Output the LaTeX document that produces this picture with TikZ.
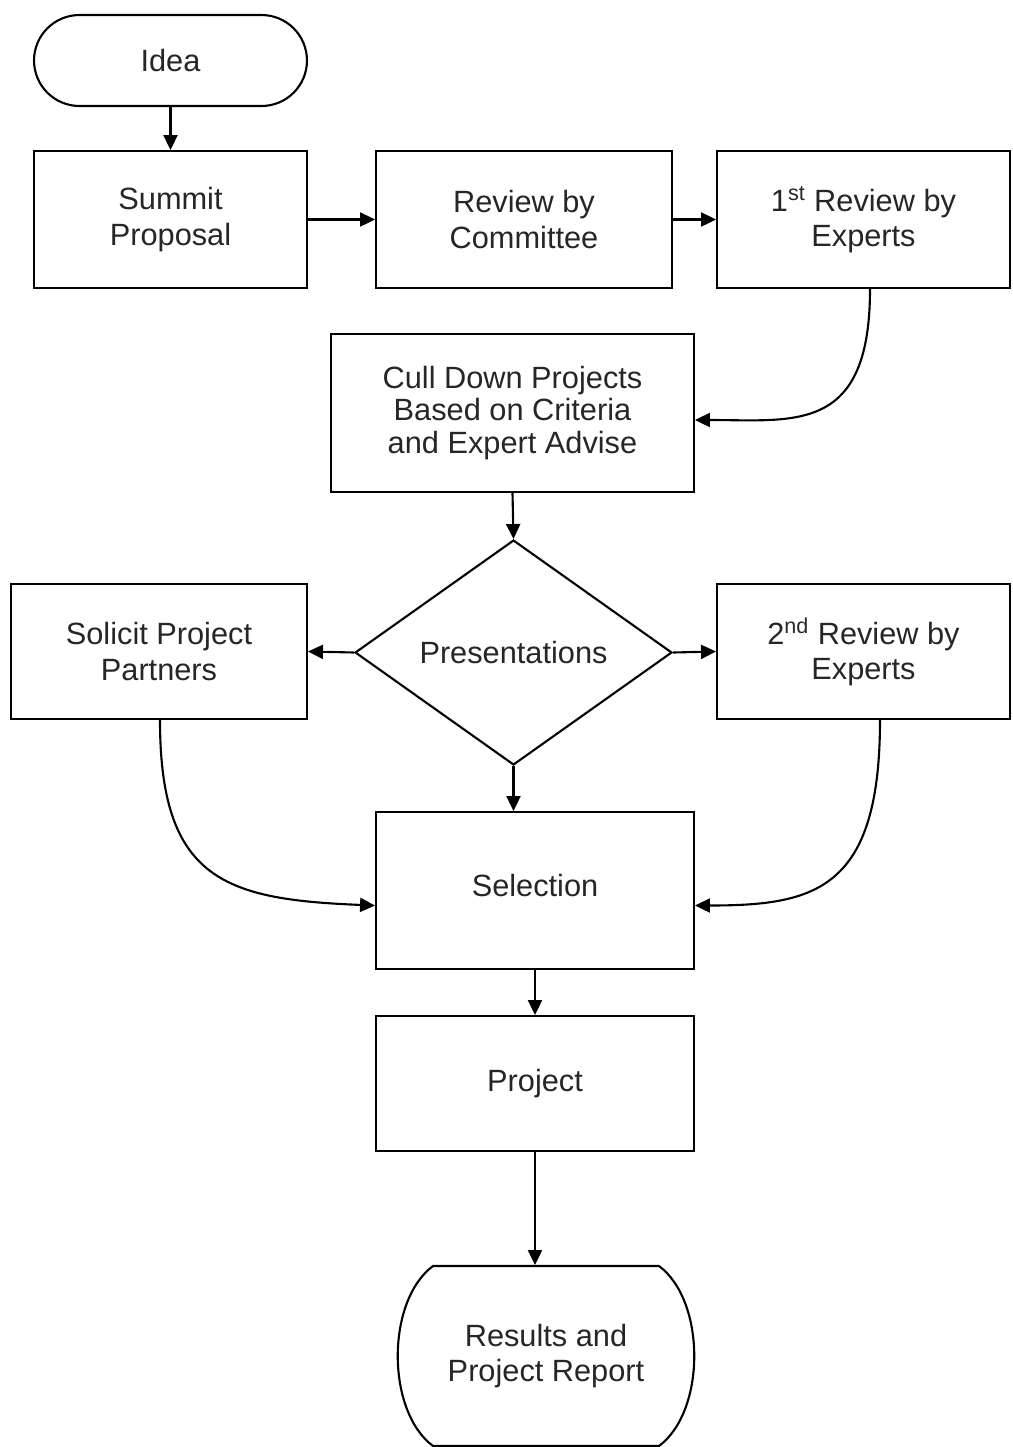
\documentclass[tikz,border=0pt]{standalone}
\usepackage{fontspec}
\setmainfont{Liberation Sans}
\usetikzlibrary{arrows.meta,shapes.geometric,calc}
\newcommand\boxfont{\fontsize{17.5}{20}\selectfont}
\begin{document}
\begin{tikzpicture}[x=0.02cm,y=-0.02cm,
  box/.style={draw, line width=1.2pt, rectangle, align=center, font=\boxfont, inner sep=0pt, text=black!85},
  term/.style={box, rounded corners=0.91cm},
  arr/.style={line width=1.2pt, -{Triangle[length=8.5pt,width=8pt]}}]
\useasboundingbox (0,0) rectangle (1012,1447);
% nodes
\node[term, minimum width=5.46cm, minimum height=1.82cm] (idea) at (170.5,60.5) {Idea};
\node[box, minimum width=5.46cm, minimum height=2.74cm] (summit) at (170.5,219.5) {Summit\\Proposal};
\node[box, minimum width=5.92cm, minimum height=2.74cm] (committee) at (524,219.5) {Review by\\Committee};
\node[box, minimum width=5.86cm, minimum height=2.74cm] (first) at (863.5,219.5) {1\textsuperscript{st} Review by\\Experts};
\node[box, minimum width=7.26cm, minimum height=3.16cm, font=\fontsize{17.5}{18.7}\selectfont] (cull) at (512.5,413) {Cull Down Projects\\Based on Criteria\\and Expert Advise};
\node[box, diamond, aspect=1.409, minimum width=6.34cm, minimum height=4.5cm] (pres) at (513.5,652.5) {Presentations};
\node[box, minimum width=5.92cm, minimum height=2.7cm] (solicit) at (159,651.5) {Solicit Project\\Partners};
\node[box, minimum width=5.86cm, minimum height=2.7cm] (second) at (863.5,651.5) {2\textsuperscript{nd} Review by\\Experts};
\node[box, minimum width=6.36cm, minimum height=3.14cm] (selection) at (535,890.5) {\raisebox{0.2cm}{Selection}};
\node[box, minimum width=6.36cm, minimum height=2.7cm] (project) at (535,1083.5) {Project};
\node[box, draw=none, minimum width=5.92cm, minimum height=3.6cm] (results) at (546,1356) {Results and\\Project Report};
\draw[line width=1.2pt, shift={(results.center)}]
  (-113,-90) -- (113,-90) .. controls (160,-55) and (160,55) .. (113,90)
  -- (-113,90) .. controls (-160,55) and (-160,-55) .. (-113,-90) -- cycle;
% connectors
\draw[arr] (idea.south) -- (summit.north);
\draw[arr] (summit.east) -- (committee.west);
\draw[arr] (committee.east) -- (first.west);
\draw[arr] ([xshift=0.13cm]first.south) .. controls +(0,145) and +(100,0) .. ([yshift=-0.14cm]cull.east);
\draw[arr] (cull.south) -- (pres.north);
\draw[arr] (pres.west) -- (solicit.east);
\draw[arr] (pres.east) -- (second.west);
\draw[arr] (pres.south) -- (selection.north -| pres.south);
\draw[arr] ([xshift=0.02cm]solicit.south) .. controls +(0,160) and +(-150,-6) .. ([yshift=-0.3cm]selection.west);
\draw[arr] ([xshift=0.33cm]second.south) .. controls +(0,170) and +(120,0) .. ([yshift=-0.3cm]selection.east);
\draw[arr] (selection.south) -- (project.north);
\draw[arr] (project.south) -- (project.south |- results.north);
\end{tikzpicture}
\end{document}
